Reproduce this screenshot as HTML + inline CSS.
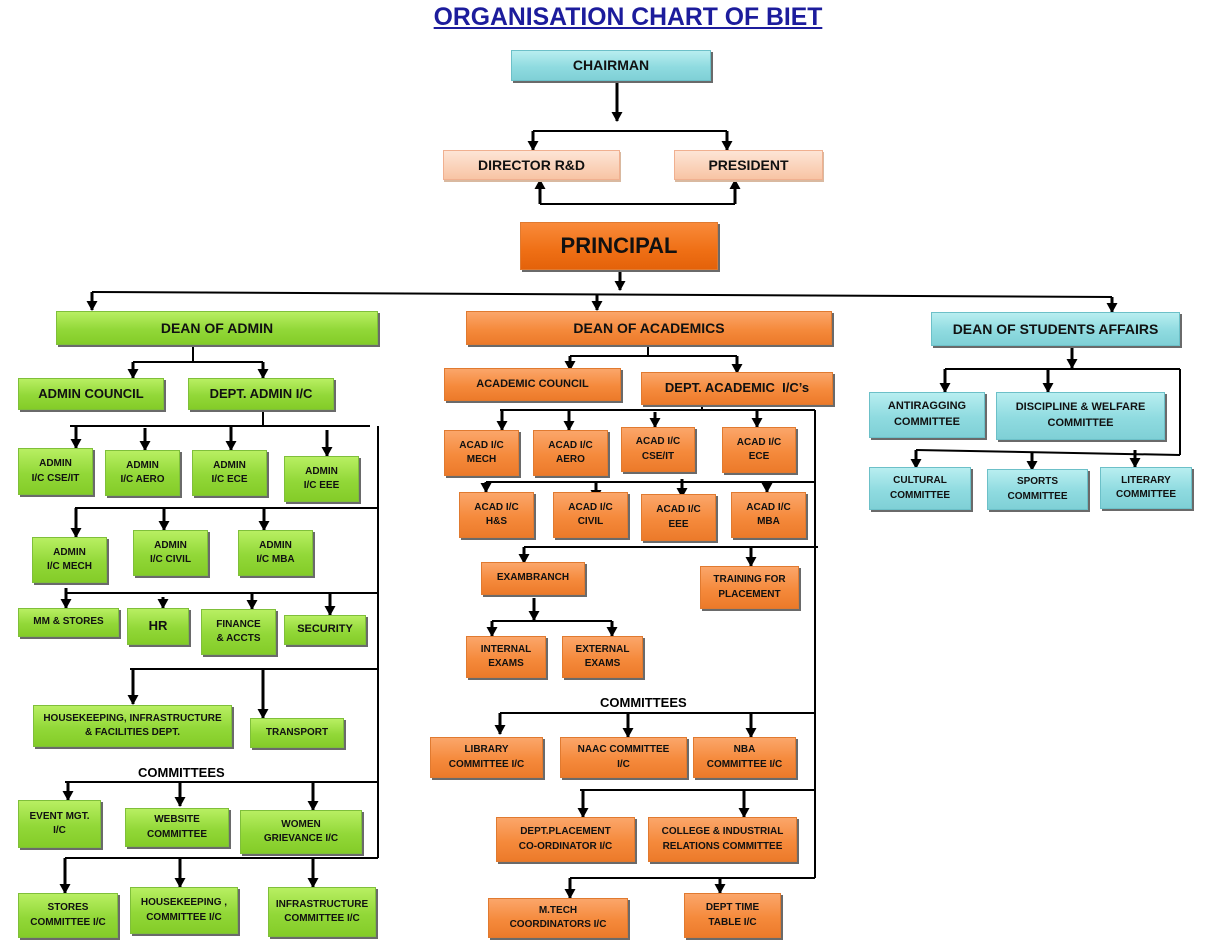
<!DOCTYPE html>
<html><head><meta charset="utf-8"><style>
body{margin:0;background:#fff;width:1230px;height:940px;position:relative;overflow:hidden;font-family:"Liberation Sans",sans-serif}
.b{position:absolute;display:flex;align-items:center;justify-content:center;text-align:center;font-weight:bold;color:#111;box-sizing:border-box;line-height:1.45;box-shadow:2px 2px 0 #6a6a6a}
.g{background:linear-gradient(#b8ef62,#92d838 55%,#84cc28);border:1px solid #7fbf3a}
.o{background:linear-gradient(#fba66a,#f58a3c 55%,#ec7a2a);border:1px solid #e07a30}
.c{background:linear-gradient(#b8eef0,#8fdbe0 55%,#7fd0d6);border:1px solid #6cc0c8}
.p{background:linear-gradient(#fde5d6,#f8c4a4);border:1px solid #f0b090;box-shadow:1px 2px 0 #d9b9a0}
.s{font-size:10px}
.m{font-size:13px}
.t{position:absolute;font-weight:bold;font-size:13px}
svg{position:absolute;left:0;top:0}
</style></head><body>
<div style="position:absolute;left:383px;top:3px;width:490px;text-align:center;font-size:25px;font-weight:bold;color:#1c1c9c;text-decoration:underline;white-space:nowrap;transform:scaleX(0.99)">ORGANISATION CHART OF BIET</div>

<svg width="1230" height="940">
<defs>
<marker id="d" markerWidth="11" markerHeight="11" refX="5.5" refY="10" orient="0" markerUnits="userSpaceOnUse" viewBox="0 0 11 11"><path d="M0,1 L11,1 L5.5,11 z" fill="#000"/></marker>
<marker id="u" markerWidth="11" markerHeight="11" refX="5.5" refY="1" orient="0" markerUnits="userSpaceOnUse" viewBox="0 0 11 11"><path d="M0,10 L11,10 L5.5,0 z" fill="#000"/></marker></defs>
<g stroke="#000" stroke-width="2" fill="none">
<line x1="617" y1="82" x2="617" y2="121" marker-end="url(#d)" stroke-width="3"/>
<line x1="533" y1="131" x2="727" y2="131"/>
<line x1="533" y1="131" x2="533" y2="150" marker-end="url(#d)" stroke-width="3"/>
<line x1="727" y1="131" x2="727" y2="150" marker-end="url(#d)" stroke-width="3"/>
<line x1="540" y1="204" x2="735" y2="204"/>
<line x1="540" y1="204" x2="540" y2="180" marker-end="url(#u)" stroke-width="3"/>
<line x1="735" y1="204" x2="735" y2="180" marker-end="url(#u)" stroke-width="3"/>
<line x1="620" y1="272" x2="620" y2="290" marker-end="url(#d)" stroke-width="3"/>
<line x1="92" y1="292" x2="1112" y2="297"/>
<line x1="92" y1="292" x2="92" y2="310" marker-end="url(#d)" stroke-width="3"/>
<line x1="597" y1="295" x2="597" y2="310" marker-end="url(#d)" stroke-width="3"/>
<line x1="1112" y1="297" x2="1112" y2="312" marker-end="url(#d)" stroke-width="3"/>
<line x1="193" y1="346" x2="193" y2="362"/>
<line x1="133" y1="362" x2="263" y2="362"/>
<line x1="133" y1="362" x2="133" y2="378" marker-end="url(#d)" stroke-width="3"/>
<line x1="263" y1="362" x2="263" y2="378" marker-end="url(#d)" stroke-width="3"/>
<line x1="263" y1="411" x2="263" y2="426"/>
<line x1="70" y1="426" x2="370" y2="426"/>
<line x1="378" y1="426" x2="378" y2="858"/>
<line x1="76" y1="426" x2="76" y2="448" marker-end="url(#d)" stroke-width="3"/>
<line x1="145" y1="428" x2="145" y2="450" marker-end="url(#d)" stroke-width="3"/>
<line x1="231" y1="426" x2="231" y2="450" marker-end="url(#d)" stroke-width="3"/>
<line x1="327" y1="430" x2="327" y2="456" marker-end="url(#d)" stroke-width="3"/>
<line x1="75" y1="508" x2="378" y2="508"/>
<line x1="76" y1="508" x2="76" y2="537" marker-end="url(#d)" stroke-width="3"/>
<line x1="164" y1="509" x2="164" y2="530" marker-end="url(#d)" stroke-width="3"/>
<line x1="264" y1="509" x2="264" y2="530" marker-end="url(#d)" stroke-width="3"/>
<line x1="65" y1="593" x2="378" y2="593"/>
<line x1="66" y1="588" x2="66" y2="608" marker-end="url(#d)" stroke-width="3"/>
<line x1="163" y1="597" x2="163" y2="608" marker-end="url(#d)" stroke-width="3"/>
<line x1="252" y1="593" x2="252" y2="609" marker-end="url(#d)" stroke-width="3"/>
<line x1="330" y1="593" x2="330" y2="615" marker-end="url(#d)" stroke-width="3"/>
<line x1="130" y1="669" x2="378" y2="669"/>
<line x1="133" y1="669" x2="133" y2="704" marker-end="url(#d)" stroke-width="3"/>
<line x1="263" y1="669" x2="263" y2="718" marker-end="url(#d)" stroke-width="3"/>
<line x1="65" y1="782" x2="378" y2="782"/>
<line x1="68" y1="782" x2="68" y2="800" marker-end="url(#d)" stroke-width="3"/>
<line x1="180" y1="782" x2="180" y2="806" marker-end="url(#d)" stroke-width="3"/>
<line x1="313" y1="782" x2="313" y2="810" marker-end="url(#d)" stroke-width="3"/>
<line x1="65" y1="858" x2="378" y2="858"/>
<line x1="65" y1="858" x2="65" y2="893" marker-end="url(#d)" stroke-width="3"/>
<line x1="180" y1="858" x2="180" y2="887" marker-end="url(#d)" stroke-width="3"/>
<line x1="313" y1="858" x2="313" y2="887" marker-end="url(#d)" stroke-width="3"/>
<line x1="648" y1="346" x2="648" y2="356"/>
<line x1="570" y1="356" x2="737" y2="356"/>
<line x1="570" y1="356" x2="570" y2="370" marker-end="url(#d)" stroke-width="3"/>
<line x1="737" y1="356" x2="737" y2="373" marker-end="url(#d)" stroke-width="3"/>
<line x1="702" y1="405" x2="702" y2="410"/>
<line x1="500" y1="410" x2="815" y2="410"/>
<line x1="815" y1="410" x2="815" y2="878"/>
<line x1="502" y1="410" x2="502" y2="430" marker-end="url(#d)" stroke-width="3"/>
<line x1="569" y1="410" x2="569" y2="430" marker-end="url(#d)" stroke-width="3"/>
<line x1="655" y1="412" x2="655" y2="427" marker-end="url(#d)" stroke-width="3"/>
<line x1="757" y1="410" x2="757" y2="427" marker-end="url(#d)" stroke-width="3"/>
<line x1="486" y1="482" x2="815" y2="482"/>
<line x1="486" y1="482" x2="486" y2="492" marker-end="url(#d)" stroke-width="3"/>
<line x1="596" y1="482" x2="596" y2="499" marker-end="url(#d)" stroke-width="3"/>
<line x1="682" y1="479" x2="682" y2="497" marker-end="url(#d)" stroke-width="3"/>
<line x1="767" y1="482" x2="767" y2="492" marker-end="url(#d)" stroke-width="3"/>
<line x1="524" y1="547" x2="818" y2="547"/>
<line x1="524" y1="547" x2="524" y2="563" marker-end="url(#d)" stroke-width="3"/>
<line x1="751" y1="547" x2="751" y2="566" marker-end="url(#d)" stroke-width="3"/>
<line x1="534" y1="598" x2="534" y2="620" marker-end="url(#d)" stroke-width="3"/>
<line x1="492" y1="621" x2="612" y2="621"/>
<line x1="492" y1="621" x2="492" y2="636" marker-end="url(#d)" stroke-width="3"/>
<line x1="612" y1="621" x2="612" y2="636" marker-end="url(#d)" stroke-width="3"/>
<line x1="500" y1="713" x2="815" y2="713"/>
<line x1="500" y1="713" x2="500" y2="734" marker-end="url(#d)" stroke-width="3"/>
<line x1="628" y1="713" x2="628" y2="737" marker-end="url(#d)" stroke-width="3"/>
<line x1="751" y1="713" x2="751" y2="737" marker-end="url(#d)" stroke-width="3"/>
<line x1="580" y1="790" x2="815" y2="790"/>
<line x1="583" y1="790" x2="583" y2="817" marker-end="url(#d)" stroke-width="3"/>
<line x1="744" y1="790" x2="744" y2="817" marker-end="url(#d)" stroke-width="3"/>
<line x1="570" y1="878" x2="815" y2="878"/>
<line x1="570" y1="878" x2="570" y2="898" marker-end="url(#d)" stroke-width="3"/>
<line x1="720" y1="878" x2="720" y2="893" marker-end="url(#d)" stroke-width="3"/>
<line x1="1072" y1="347" x2="1072" y2="368" marker-end="url(#d)" stroke-width="3"/>
<line x1="945" y1="369" x2="1180" y2="369"/>
<line x1="1180" y1="369" x2="1180" y2="455"/>
<line x1="945" y1="369" x2="945" y2="392" marker-end="url(#d)" stroke-width="3"/>
<line x1="1048" y1="369" x2="1048" y2="392" marker-end="url(#d)" stroke-width="3"/>
<line x1="916" y1="450" x2="1180" y2="455"/>
<line x1="916" y1="450" x2="916" y2="468" marker-end="url(#d)" stroke-width="3"/>
<line x1="1032" y1="452" x2="1032" y2="470" marker-end="url(#d)" stroke-width="3"/>
<line x1="1135" y1="450" x2="1135" y2="467" marker-end="url(#d)" stroke-width="3"/>
</g></svg>

<div class="b c" style="left:511px;top:50px;width:200px;height:31px;font-size:14px">CHAIRMAN</div>
<div class="b p" style="left:443px;top:150px;width:177px;height:30px;font-size:14px">DIRECTOR R&amp;D</div>
<div class="b p" style="left:674px;top:150px;width:149px;height:30px;font-size:14px">PRESIDENT</div>
<div class="b o" style="left:520px;top:222px;width:198px;height:48px;font-size:22px;background:linear-gradient(#f98a3a,#ef6f15 60%,#e4620a)">PRINCIPAL</div>

<div class="b g" style="left:56px;top:311px;width:322px;height:34px;font-size:14px">DEAN OF ADMIN</div>
<div class="b o" style="left:466px;top:311px;width:366px;height:34px;font-size:14px">DEAN OF ACADEMICS</div>
<div class="b c" style="left:931px;top:312px;width:249px;height:34px;font-size:14px">DEAN OF STUDENTS AFFAIRS</div>

<div class="b g m" style="left:18px;top:378px;width:146px;height:32px">ADMIN COUNCIL</div>
<div class="b g m" style="left:188px;top:378px;width:146px;height:32px">DEPT. ADMIN I/C</div>
<div class="b g s" style="left:18px;top:448px;width:75px;height:47px">ADMIN<br>I/C CSE/IT</div>
<div class="b g s" style="left:105px;top:450px;width:75px;height:46px">ADMIN<br>I/C AERO</div>
<div class="b g s" style="left:192px;top:450px;width:75px;height:46px">ADMIN<br>I/C ECE</div>
<div class="b g s" style="left:284px;top:456px;width:75px;height:46px">ADMIN<br>I/C EEE</div>
<div class="b g s" style="left:32px;top:537px;width:75px;height:46px">ADMIN<br>I/C MECH</div>
<div class="b g s" style="left:133px;top:530px;width:75px;height:46px">ADMIN<br>I/C CIVIL</div>
<div class="b g s" style="left:238px;top:530px;width:75px;height:46px">ADMIN<br>I/C MBA</div>
<div class="b g s" style="left:18px;top:608px;width:101px;height:29px">MM &amp; STORES</div>
<div class="b g m" style="left:127px;top:608px;width:62px;height:37px">HR</div>
<div class="b g s" style="left:201px;top:609px;width:75px;height:46px">FINANCE<br>&amp; ACCTS</div>
<div class="b g s" style="left:284px;top:615px;width:82px;height:30px;font-size:11px">SECURITY</div>
<div class="b g s" style="left:33px;top:705px;width:199px;height:42px">HOUSEKEEPING, INFRASTRUCTURE<br>&amp; FACILITIES DEPT.</div>
<div class="b g s" style="left:250px;top:718px;width:94px;height:30px">TRANSPORT</div>
<div class="t" style="left:138px;top:765px">COMMITTEES</div>
<div class="b g s" style="left:18px;top:800px;width:83px;height:48px">EVENT MGT.<br>I/C</div>
<div class="b g s" style="left:125px;top:808px;width:104px;height:39px">WEBSITE<br>COMMITTEE</div>
<div class="b g s" style="left:240px;top:810px;width:122px;height:44px">WOMEN<br>GRIEVANCE I/C</div>
<div class="b g s" style="left:18px;top:893px;width:100px;height:45px">STORES<br>COMMITTEE I/C</div>
<div class="b g s" style="left:130px;top:887px;width:108px;height:47px">HOUSEKEEPING ,<br>COMMITTEE I/C</div>
<div class="b g s" style="left:268px;top:887px;width:108px;height:50px">INFRASTRUCTURE<br>COMMITTEE I/C</div>

<div class="b o s" style="left:444px;top:368px;width:177px;height:33px;font-size:11px">ACADEMIC COUNCIL</div>
<div class="b o m" style="left:641px;top:372px;width:192px;height:33px">DEPT. ACADEMIC &nbsp;I/C’s</div>
<div class="b o s" style="left:444px;top:430px;width:75px;height:46px">ACAD I/C<br>MECH</div>
<div class="b o s" style="left:533px;top:430px;width:75px;height:46px">ACAD I/C<br>AERO</div>
<div class="b o s" style="left:621px;top:427px;width:74px;height:45px">ACAD I/C<br>CSE/IT</div>
<div class="b o s" style="left:722px;top:427px;width:74px;height:46px">ACAD I/C<br>ECE</div>
<div class="b o s" style="left:459px;top:492px;width:75px;height:46px">ACAD I/C<br>H&amp;S</div>
<div class="b o s" style="left:553px;top:492px;width:75px;height:46px">ACAD I/C<br>CIVIL</div>
<div class="b o s" style="left:641px;top:494px;width:75px;height:47px">ACAD I/C<br>EEE</div>
<div class="b o s" style="left:731px;top:492px;width:75px;height:46px">ACAD I/C<br>MBA</div>
<div class="b o s" style="left:481px;top:562px;width:104px;height:33px">EXAMBRANCH</div>
<div class="b o s" style="left:700px;top:566px;width:99px;height:43px">TRAINING FOR<br>PLACEMENT</div>
<div class="b o s" style="left:466px;top:636px;width:80px;height:42px">INTERNAL<br>EXAMS</div>
<div class="b o s" style="left:562px;top:636px;width:81px;height:42px">EXTERNAL<br>EXAMS</div>
<div class="t" style="left:600px;top:695px">COMMITTEES</div>
<div class="b o s" style="left:430px;top:737px;width:113px;height:41px">LIBRARY<br>COMMITTEE I/C</div>
<div class="b o s" style="left:560px;top:737px;width:127px;height:41px">NAAC COMMITTEE<br>I/C</div>
<div class="b o s" style="left:693px;top:737px;width:103px;height:41px">NBA<br>COMMITTEE I/C</div>
<div class="b o s" style="left:496px;top:817px;width:139px;height:45px">DEPT.PLACEMENT<br>CO-ORDINATOR I/C</div>
<div class="b o s" style="left:648px;top:817px;width:149px;height:45px">COLLEGE &amp; INDUSTRIAL<br>RELATIONS COMMITTEE</div>
<div class="b o s" style="left:488px;top:898px;width:140px;height:40px">M.TECH<br>COORDINATORS I/C</div>
<div class="b o s" style="left:684px;top:893px;width:97px;height:45px">DEPT TIME<br>TABLE I/C</div>

<div class="b c s" style="left:869px;top:392px;width:116px;height:46px;font-size:11px">ANTIRAGGING<br>COMMITTEE</div>
<div class="b c s" style="left:996px;top:392px;width:169px;height:48px;font-size:11px">DISCIPLINE &amp; WELFARE<br>COMMITTEE</div>
<div class="b c s" style="left:869px;top:467px;width:102px;height:43px">CULTURAL<br>COMMITTEE</div>
<div class="b c s" style="left:987px;top:469px;width:101px;height:41px">SPORTS<br>COMMITTEE</div>
<div class="b c s" style="left:1100px;top:467px;width:92px;height:42px">LITERARY<br>COMMITTEE</div>
</body></html>
